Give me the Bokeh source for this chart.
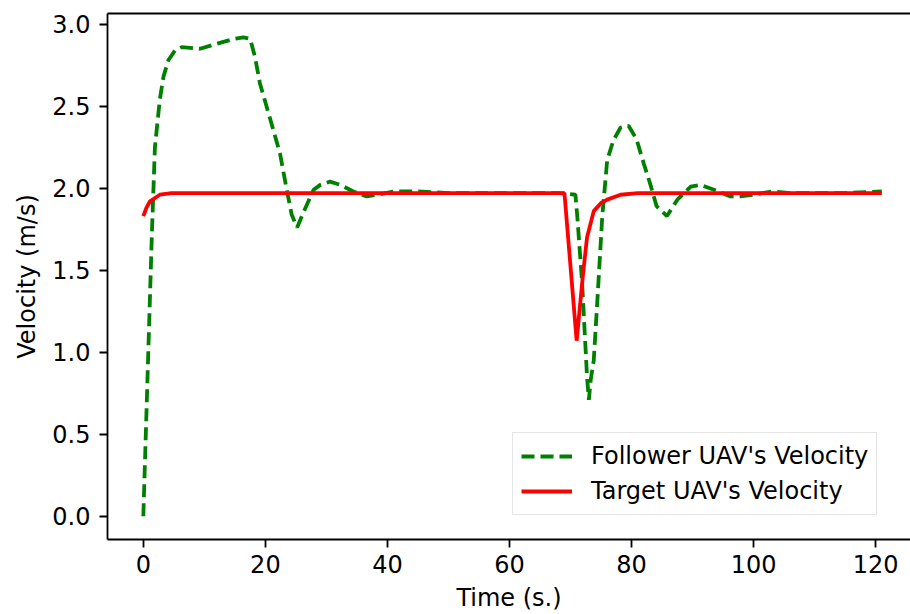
from bokeh.plotting import figure
from bokeh.models import LinearAxis, FixedTicker, PrintfTickFormatter, Range1d
from bokeh.embed import file_html
from bokeh.resources import INLINE

# ---- data ----
t_follower = [0, 1.4, 1.9, 2.7, 3.3, 4.1, 5.2, 6.3, 9.3, 12.0, 14.8, 16.4, 17.5, 18.3, 19.1,
              20.8, 22.4, 23.5, 24.3, 25.2, 26.2, 27.9, 29.0, 30.6, 32.3, 34.4, 36.6, 38.3,
              41, 45, 50, 60, 68, 70.8, 71.1, 71.9, 72.7, 73.0, 73.3, 73.8, 74.4, 75.2, 76.0,
              77.0, 78.2, 79.5, 80.8, 82.0, 83.1, 84.1, 85.8, 87.5, 89.7, 91.3, 93.5, 96.2,
              97.8, 100, 103, 106, 110, 115, 121]
v_follower = [0, 1.72, 2.25, 2.54, 2.68, 2.78, 2.84, 2.86, 2.85, 2.88, 2.91, 2.92, 2.91, 2.80,
              2.64, 2.42, 2.21, 1.99, 1.84, 1.76, 1.85, 1.99, 2.02, 2.04, 2.02, 1.98, 1.95,
              1.96, 1.98, 1.98, 1.97, 1.97, 1.97, 1.96, 1.83, 1.42, 0.85, 0.71, 0.83, 0.95,
              1.32, 1.83, 2.17, 2.29, 2.37, 2.38, 2.30, 2.15, 2.02, 1.89, 1.83, 1.93, 2.01,
              2.02, 1.99, 1.95, 1.95, 1.96, 1.98, 1.97, 1.97, 1.97, 1.98]

t_target = [0, 0.5, 1.1, 2.7, 4.6, 10, 69, 71, 72, 72.7, 73.8, 75, 76, 78.2, 81, 90, 121]
v_target = [1.83, 1.88, 1.92, 1.96, 1.97, 1.97, 1.97, 1.07, 1.46, 1.70, 1.86, 1.91, 1.93,
            1.96, 1.97, 1.97, 1.97]

x_ticks = [0, 20, 40, 60, 80, 100, 120]
y_ticks = [0.0, 0.5, 1.0, 1.5, 2.0, 2.5, 3.0]

FONT = "DejaVu Sans"
FS = "24px"
LW = 1.8

p = figure(width=910, height=614, output_backend="svg", toolbar_location=None,
           x_range=Range1d(-5.87, 125.7), y_range=Range1d(-0.142, 3.065),
           min_border_left=107, min_border_right=0, min_border_top=13, min_border_bottom=74,
           x_axis_label="Time (s.)", y_axis_label="Velocity (m/s)")
p.outline_line_color = None
p.xgrid.visible = False
p.ygrid.visible = False
p.background_fill_color = "white"
p.border_fill_color = "white"

for ax, ticks, fmt, standoff in ((p.xaxis[0], x_ticks, "%d", 7), (p.yaxis[0], y_ticks, "%.1f", 9)):
    ax.ticker = FixedTicker(ticks=ticks)
    ax.formatter = PrintfTickFormatter(format=fmt)
    ax.major_label_text_font = FONT
    ax.major_label_text_font_size = FS
    ax.major_label_text_color = "black"
    ax.axis_label_text_font = FONT
    ax.axis_label_text_font_size = FS
    ax.axis_label_text_font_style = "normal"
    ax.axis_label_text_color = "black"
    ax.axis_line_width = LW
    ax.axis_line_color = "black"
    ax.major_tick_line_width = LW
    ax.major_tick_line_color = "black"
    ax.major_tick_in = 0
    ax.major_tick_out = 8
    ax.minor_tick_line_color = None
    ax.major_label_standoff = standoff
    ax.axis_label_standoff = 8

top = LinearAxis(ticker=FixedTicker(ticks=[]), major_label_text_font_size="0px",
                 major_tick_line_color=None, minor_tick_line_color=None,
                 axis_line_width=LW, axis_line_color="black")
p.add_layout(top, "above")

p.line(t_follower, v_follower, line_color="#008000", line_width=3.8, line_dash="13 6",
       legend_label="Follower UAV's Velocity")
p.line(t_target, v_target, line_color="#ff0000", line_width=3.8,
       legend_label="Target UAV's Velocity")

lg = p.legend[0]
lg.location = (405, 24)
lg.margin = 0
lg.padding = 8
lg.spacing = 5
lg.label_height = 30
lg.glyph_height = 30
lg.glyph_width = 51
lg.label_standoff = 19
lg.label_text_font = FONT
lg.label_text_font_size = FS
lg.label_text_color = "black"
lg.border_line_color = "#cccccc"
lg.border_line_width = 1.8
lg.background_fill_alpha = 0.8

open("out.html", "w").write(file_html(p, INLINE))
